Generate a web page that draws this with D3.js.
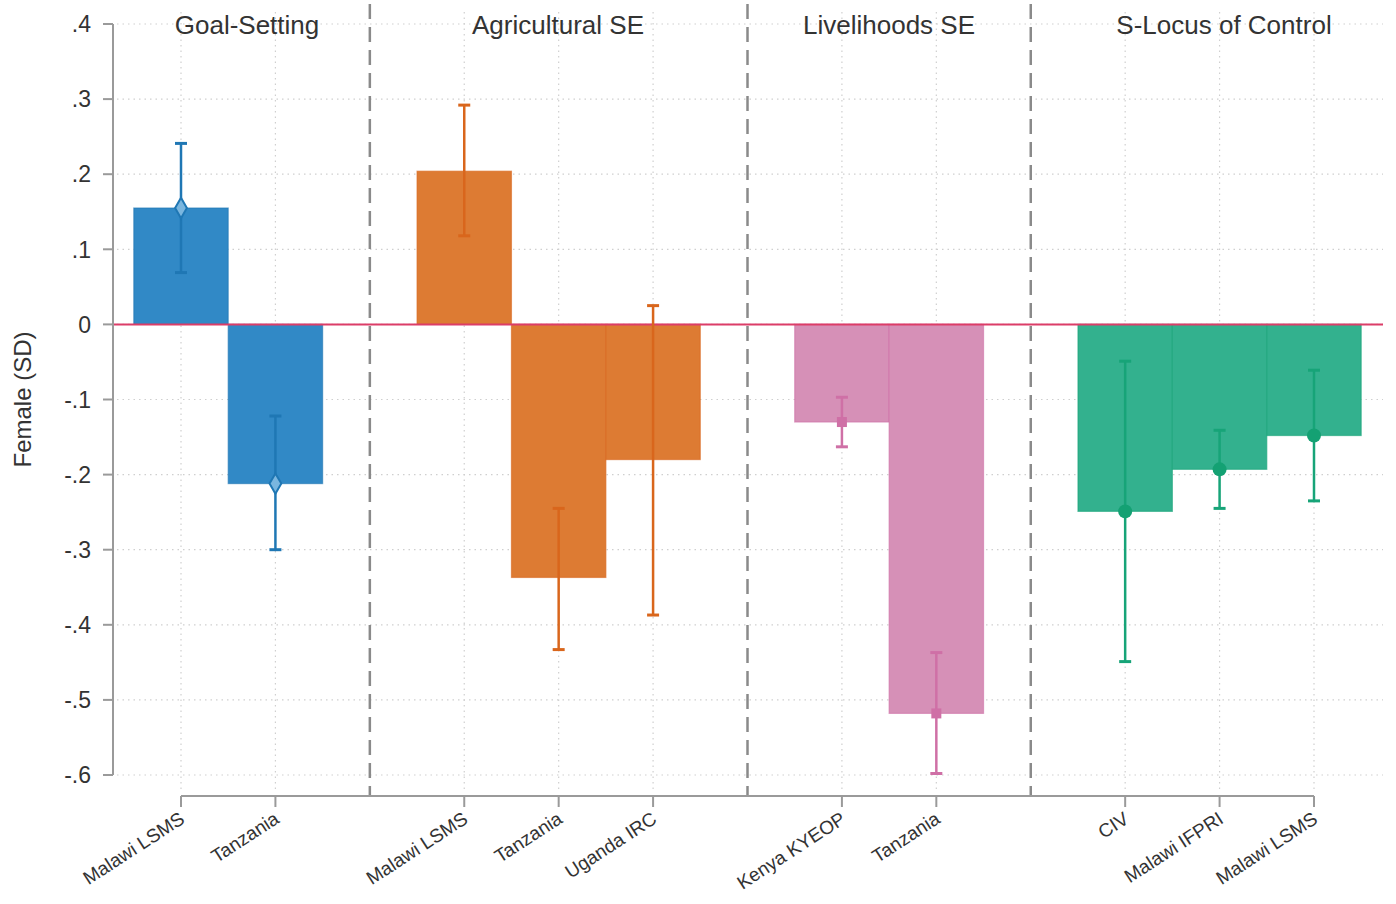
<!DOCTYPE html>
<html><head><meta charset="utf-8">
<script src="https://cdn.jsdelivr.net/npm/d3@7"></script>
<style>body{margin:0;background:#fff}svg{display:block}text{font-family:"Liberation Sans",Arial,sans-serif;fill:#333}</style>
</head><body><svg id="c" width="1396" height="904"></svg>
<script>
const groups = ["Goal-Setting","Agricultural SE","Livelihoods SE","S-Locus of Control"];
const labels = ["Malawi LSMS","Tanzania","Malawi LSMS","Tanzania","Uganda IRC","Kenya KYEOP","Tanzania","CIV","Malawi IFPRI","Malawi LSMS"];
const groupOf = [0,0,1,1,1,2,2,3,3,3];
const values = [0.155,-0.212,0.204,-0.337,-0.180,-0.130,-0.518,-0.249,-0.193,-0.148];
const lows   = [0.069,-0.300,0.118,-0.433,-0.387,-0.163,-0.598,-0.449,-0.245,-0.235];
const highs  = [0.241,-0.122,0.292,-0.245,0.025,-0.097,-0.437,-0.049,-0.141,-0.061];
const yTicks = [0.4,0.3,0.2,0.1,0,-0.1,-0.2,-0.3,-0.4,-0.5,-0.6];
const yTickLabels = [".4",".3",".2",".1","0","-.1","-.2","-.3","-.4","-.5","-.6"];

const barColors = ["#3189c6","#dd7b33","#d690b7","#33b18e"];
const lineColors = ["#1f77b4","#d9661c","#cf70a6","#17a478"];

(function(){
const svg = d3.select("#c");
const x = d3.scaleLinear().domain([0,12]).range([181,1314]);
const y = d3.scaleLinear().domain([-0.6,0.4]).range([775,24]);
const step = x(1)-x(0);
const L = 113, R = 1383, T = 4, axisY = 796;
const pos = (d,i) => i + groupOf[i];

// grid
svg.append("g").selectAll("line").data(yTicks).join("line")
  .attr("x1",L+4).attr("x2",R).attr("y1",d=>y(d)).attr("y2",d=>y(d))
  .attr("stroke","#cfcfcf").attr("stroke-width",1.2).attr("stroke-dasharray","1.5,4");
svg.append("g").selectAll("line").data(labels).join("line")
  .attr("x1",(d,i)=>x(pos(d,i))).attr("x2",(d,i)=>x(pos(d,i)))
  .attr("y1",T+8).attr("y2",axisY-4)
  .attr("stroke","#cfcfcf").attr("stroke-width",1.2).attr("stroke-dasharray","1.5,4");

// bars
svg.append("g").selectAll("rect").data(values).join("rect")
  .attr("x",(d,i)=>x(pos(d,i))-step/2)
  .attr("width",step)
  .attr("y",d=>y(Math.max(0,d)))
  .attr("height",d=>Math.abs(y(d)-y(0)))
  .attr("fill",(d,i)=>barColors[groupOf[i]])
  .attr("stroke",(d,i)=>lineColors[groupOf[i]]).attr("stroke-width",1.2).attr("stroke-opacity",0.6);

// separators
const seps = [];
for (let i=1;i<labels.length;i++) if (groupOf[i]!==groupOf[i-1]) seps.push(pos(null,i)-1);
svg.append("g").selectAll("line").data(seps).join("line")
  .attr("x1",d=>x(d)).attr("x2",d=>x(d)).attr("y1",T).attr("y2",axisY)
  .attr("stroke","#8a8a8a").attr("stroke-width",2.5).attr("stroke-dasharray","15,8");

// zero line
svg.append("line").attr("x1",L).attr("x2",R).attr("y1",y(0)).attr("y2",y(0))
  .attr("stroke","#dc3d68").attr("stroke-width",2);

// error bars
const eb = svg.append("g");
values.forEach((v,i)=>{
  const cx = x(pos(v,i)), c = lineColors[groupOf[i]];
  eb.append("line").attr("x1",cx).attr("x2",cx).attr("y1",y(lows[i])).attr("y2",y(highs[i]))
    .attr("stroke",c).attr("stroke-width",2.5);
  [lows[i],highs[i]].forEach(e=>eb.append("line").attr("x1",cx-6).attr("x2",cx+6)
    .attr("y1",y(e)).attr("y2",y(e)).attr("stroke",c).attr("stroke-width",3));
  const g = groupOf[i], cy = y(v);
  if (g===0) eb.append("path").attr("d",d3.symbol(d3.symbolDiamond,120)())
    .attr("transform",`translate(${cx},${cy})`).attr("fill","#7ab6df").attr("stroke",c).attr("stroke-width",2);
  else if (g===2) eb.append("rect").attr("x",cx-5).attr("y",cy-5).attr("width",10).attr("height",10).attr("fill",c);
  else if (g===3) eb.append("circle").attr("cx",cx).attr("cy",cy).attr("r",7).attr("fill","#14a173");
});

// y axis
svg.append("line").attr("x1",L).attr("x2",L).attr("y1",y(0.4)).attr("y2",y(-0.6))
  .attr("stroke","#9a9a9a").attr("stroke-width",2);
svg.append("g").selectAll("line").data(yTicks).join("line")
  .attr("x1",L-10).attr("x2",L).attr("y1",d=>y(d)).attr("y2",d=>y(d))
  .attr("stroke","#9a9a9a").attr("stroke-width",2);
svg.append("g").selectAll("text").data(yTicks).join("text")
  .attr("x",91).attr("y",d=>y(d)).attr("dy","0.36em").attr("text-anchor","end")
  .attr("font-size",23).text((d,i)=>yTickLabels[i]);
svg.append("text").attr("transform",`translate(31,${y(-0.1)}) rotate(-90)`)
  .attr("text-anchor","middle").attr("font-size",24).text("Female (SD)");

// x axis
svg.append("line").attr("x1",x(0)).attr("x2",x(12)).attr("y1",axisY).attr("y2",axisY)
  .attr("stroke","#9a9a9a").attr("stroke-width",2);
svg.append("g").selectAll("line").data(labels).join("line")
  .attr("x1",(d,i)=>x(pos(d,i))).attr("x2",(d,i)=>x(pos(d,i))).attr("y1",axisY).attr("y2",axisY+11)
  .attr("stroke","#9a9a9a").attr("stroke-width",2);
svg.append("g").selectAll("text").data(labels).join("text")
  .attr("transform",(d,i)=>`translate(${x(pos(d,i))+5},${axisY+26}) rotate(-33)`)
  .attr("text-anchor","end").attr("font-size",19).text(d=>d);

// group titles
const titleX = [247,558,889,1224];
svg.append("g").selectAll("text").data(groups).join("text")
  .attr("x",(d,i)=>titleX[i]).attr("y",34).attr("text-anchor","middle")
  .attr("font-size",26).text(d=>d);
})();
</script></body></html>
